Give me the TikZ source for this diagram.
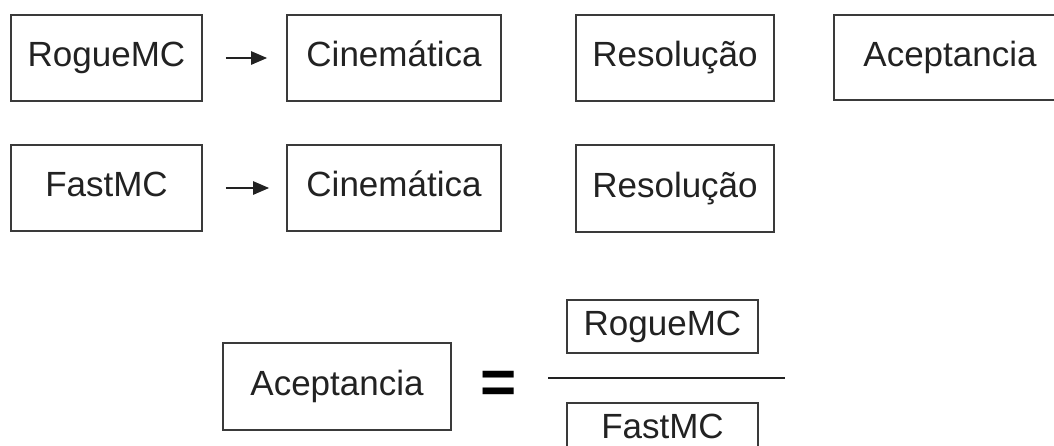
\documentclass[tikz,border=0pt]{standalone}
\usepackage{fontspec}
\setmainfont{Liberation Sans}
\usetikzlibrary{arrows.meta}
\definecolor{boxline}{HTML}{3A3A3A}
\definecolor{txt}{HTML}{222222}
\tikzset{
  box/.style={draw=boxline, line width=1.6pt, rectangle, inner sep=0pt,
    font=\fontsize{35}{42}\selectfont, text=txt, text height=25pt, text depth=8pt},
  arr/.style={line width=2.4pt, draw=txt, -{Triangle[length=16pt 0,width=13pt 0]}},
}
\begin{document}
\begin{tikzpicture}[x=1pt,y=-1pt]
\clip (0,0) rectangle (1054,445);
\fill[white] (0,0) rectangle (1054,445);
% row 1
\node[box, minimum width=191pt, minimum height=86pt] (r1) at (106.5,58) {RogueMC};
\node[box, minimum width=214pt, minimum height=86pt] (c1) at (394,58) {Cinemática};
\node[box, minimum width=198pt, minimum height=86pt] (s1) at (675,58) {Resolução};
\node[box, minimum width=232pt, minimum height=85pt] (a1) at (950,57.5) {Aceptancia};
% row 2
\node[box, minimum width=191pt, minimum height=86pt] (f2) at (106.5,188) {FastMC};
\node[box, minimum width=214pt, minimum height=86pt] (c2) at (394,188) {Cinemática};
\node[box, minimum width=198pt, minimum height=87pt] (s2) at (675,188.5) {Resolução};
% arrows
\draw[arr, shorten <=23pt, shorten >=19pt] (r1) -- (c1);
\draw[arr, shorten <=23pt, shorten >=17pt] (f2) -- (c2);
% equation
\node[box, minimum width=228pt, minimum height=87pt] (ab) at (337,386.5) {Aceptancia};
\node[font=\fontsize{62}{62}\selectfont\bfseries, text=black, inner sep=0pt] (eq) at (498.5,387) {=};
\node[box, minimum width=191pt, minimum height=53pt] (rs) at (662.5,326.5) {RogueMC};
\node[box, minimum width=191pt, minimum height=53pt] (fs) at (662.5,429.5) {FastMC};
\coordinate (fl) at (548,378);
\coordinate (fr) at (785,378);
\draw[line width=2.6pt, draw=txt] (fl) -- (fr);
\end{tikzpicture}
\end{document}
